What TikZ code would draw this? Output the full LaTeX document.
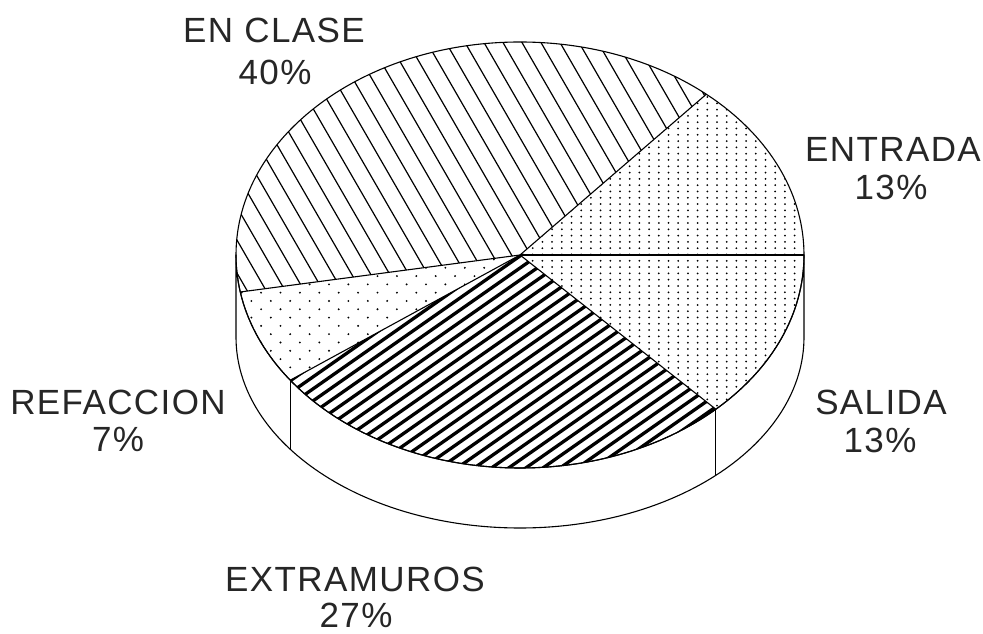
\documentclass[tikz,border=0pt]{standalone}
\usepackage{fontspec}
\setmainfont{Liberation Sans}
\newfontfamily\lblfont[LetterSpace=4]{Liberation Sans}
\begin{document}
\begin{tikzpicture}[x=1pt,y=1pt,
  rim/.style={line width=1.1pt, line join=round},
  hatchthin/.style={line width=1.2pt},
  hatchbold/.style={line width=3.3pt},
  dotfill/.style={fill=black},
  lbl/.style={font=\lblfont\fontsize{35}{40}\selectfont, anchor=base, inner sep=0pt, text=black!85}]
\useasboundingbox (0,0) rectangle (983,634);
\fill[white] (0,0) rectangle (983,634);
\def\cx{520}\def\cy{379}\def\rx{284}\def\ry{213}\def\by{297}\def\bry{191}
% named rim points
\coordinate (C) at (\cx,\cy);
\foreach \a/\n in {0/a, 49/b, 190/c, 216/d, 313.6/e} {
  \coordinate (t\n) at ({\cx+\rx*cos(\a)},{\cy+\ry*sin(\a)});
  \coordinate (w\n) at ({\cx+\rx*cos(\a)},{\by+\bry*sin(\a)});
}
% side wall
\draw[rim, fill=white] (\cx-\rx,\cy) -- (\cx-\rx,\by)
  arc[start angle=180,end angle=360,x radius=\rx,y radius=\bry]
  -- (\cx+\rx,\cy)
  arc[start angle=360,end angle=180,x radius=\rx,y radius=\ry] -- cycle;
\draw[rim] (td) -- (wd);
\draw[rim] (te) -- (we);
% EN CLASE hatch
\begin{scope}
\clip (C) -- (tb) arc[start angle=49,end angle=190,x radius=\rx,y radius=\ry] -- cycle;
\foreach \k in {-4,...,42} \draw[hatchthin] ({19*\k},640) -- ++(300,-520);
\end{scope}
% EXTRAMUROS hatch
\begin{scope}
\clip (C) -- (td) arc[start angle=216,end angle=313.6,x radius=\rx,y radius=\ry] -- cycle;
\foreach \k in {-30,...,25} \draw[hatchbold] (220,{12*\k}) -- ++(600,420);
\end{scope}
% ENTRADA + SALIDA dots
\begin{scope}
\clip (C) -- (ta) arc[start angle=0,end angle=49,x radius=\rx,y radius=\ry] -- cycle
      (C) -- (te) arc[start angle=313.6,end angle=360,x radius=\rx,y radius=\ry] -- cycle;
\fill[dotfill] \foreach \i in {0,...,29} {\foreach \j in {0,...,51} {({523+9.7*\i},{222+6.3*\j}) circle (1.0)}};
\end{scope}
% REFACCION dots
\begin{scope}
\clip (C) -- (tc) arc[start angle=190,end angle=216,x radius=\rx,y radius=\ry] -- cycle;
\fill[dotfill] \foreach \j [evaluate=\j as \off using {mod(\j,2)*9.7}] in {0,...,16} {\foreach \i in {0,...,15} {({232+19.4*\i+\off},{250+8.3*\j}) circle (1.05)}};
\end{scope}
% outlines
\draw[rim] (C) ellipse[x radius=\rx, y radius=\ry];
\draw[rim] (C) -- (ta);
\draw[rim] (C) -- (tb);
\draw[rim] (C) -- (tc);
\draw[rim] (C) -- (td);
\draw[rim] (C) -- (te);
% labels
\node[lbl] (lclase) at (274,591) {EN CLASE};
\node[lbl] (pclase) at (275,549) {40\%};
\node[lbl] (lentr) at (893,472) {ENTRADA};
\node[lbl] (pentr) at (891,434) {13\%};
\node[lbl] (lsal) at (881,219) {SALIDA};
\node[lbl] (psal) at (880,181) {13\%};
\node[lbl] (lref) at (118,219) {REFACCION};
\node[lbl] (pref) at (118,182) {7\%};
\node[lbl] (lext) at (355,42) {EXTRAMUROS};
\node[lbl] (pext) at (356,6) {27\%};
\end{tikzpicture}
\end{document}
